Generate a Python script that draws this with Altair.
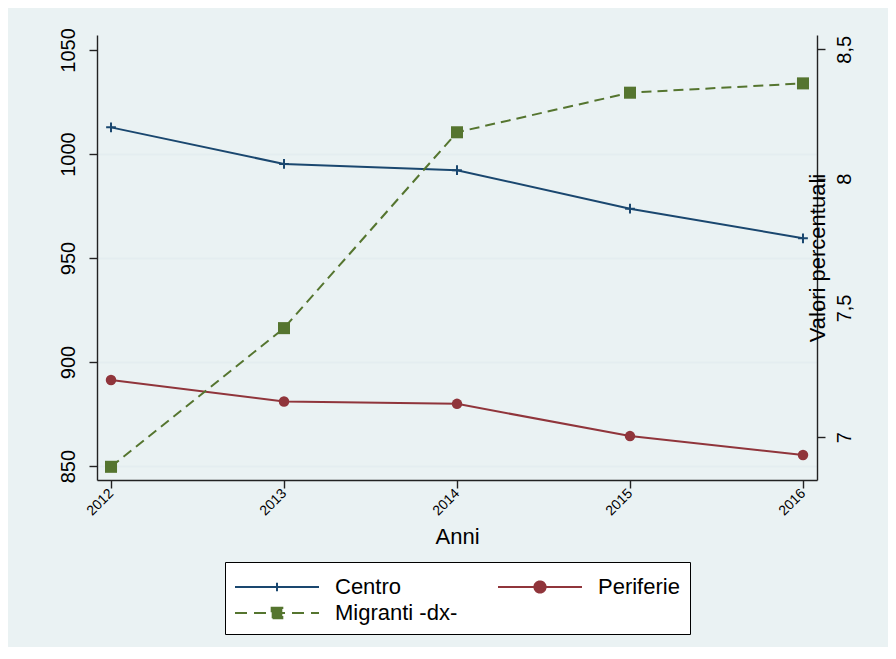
import altair as alt
import pandas as pd

years = [2012, 2013, 2014, 2015, 2016]
centro = [1012.8, 995.2, 992.2, 973.7, 959.5]
periferie = [891.4, 881.0, 879.9, 864.4, 855.3]
migranti = [6.886, 7.422, 8.179, 8.332, 8.368]
# legend order (column-major fill gives rows: Centro | Periferie, Migranti)
series = ["Centro", "Migranti -dx-", "Periferie"]
colors = ["#1A476F", "#55752F", "#90353B"]
left_ticks = [850, 900, 950, 1000, 1050]
right_ticks = [7, 7.5, 8, 8.5]

FONT = "Liberation Sans, Arial, Helvetica, sans-serif"
BG = "#EAF2F3"
AXC = "#222222"
NAVY, GREEN, MAROON = colors

df_c = pd.DataFrame({"anno": years, "valore": centro})
df_p = pd.DataFrame({"anno": years, "valore": periferie})
df_m = pd.DataFrame({"anno": years, "valore": migranti})
df_leg = pd.DataFrame({"serie": series})

x_enc = alt.X(
    "anno:Q",
    scale=alt.Scale(domain=[2011.919, 2016.081], nice=False, zero=False),
    axis=alt.Axis(
        values=years, format="d", title="Anni", labelAngle=315, labelAlign="right",
        labelBaseline="middle", labelFontSize=14, labelPadding=3, tickSize=8,
        titleFontSize=22, titleY=63, titleBaseline="alphabetic", grid=False,
    ),
)

y_left = alt.Y(
    "valore:Q",
    scale=alt.Scale(domain=[843.3, 1057.2], nice=False, zero=False),
    axis=alt.Axis(
        values=left_ticks, format="d", title=None, labelAngle=270, labelAlign="center",
        labelBaseline="bottom", labelFontSize=20, labelPadding=11, tickSize=8,
        grid=True, gridColor="#E4EDF0", gridWidth=2,
        gridOpacity=alt.condition("datum.value >= 1040", alt.value(0), alt.value(1)),
    ),
)

y_right = alt.Y(
    "valore:Q",
    scale=alt.Scale(domain=[6.835, 8.555], nice=False, zero=False),
    axis=alt.Axis(
        orient="right", values=right_ticks,
        labelExpr="replace(format(datum.value, '.1~f'), '.', ',')",
        title="Valori percentuali", titleAngle=270, titleX=0, titleY=222.5,
        titleAlign="center", titleBaseline="middle", titleFontSize=22,
        labelAngle=270, labelAlign="center", labelBaseline="top",
        labelFontSize=20, labelPadding=9, tickSize=8, grid=False,
    ),
)

c_line = alt.Chart(df_c).mark_line(color=NAVY, strokeWidth=2).encode(x=x_enc, y=y_left)
c_pts = alt.Chart(df_c).mark_point(
    shape="M-1,0H1M0,-1V1", size=95, filled=False, strokeWidth=2, color=NAVY, opacity=1
).encode(x=x_enc, y=y_left)
p_line = alt.Chart(df_p).mark_line(color=MAROON, strokeWidth=2).encode(x=x_enc, y=y_left)
p_pts = alt.Chart(df_p).mark_point(
    shape="circle", size=110, filled=True, color=MAROON, opacity=1
).encode(x=x_enc, y=y_left)

m_line = alt.Chart(df_m).mark_line(color=GREEN, strokeWidth=2, strokeDash=[10, 6]).encode(x=x_enc, y=y_right)
m_pts = alt.Chart(df_m).mark_point(
    shape="square", size=145, filled=True, color=GREEN, opacity=1
).encode(x=x_enc, y=y_right)

legend_paths = [
    "M-3,0H3M0,-0.3V0.3",
    "M-3,0H3M-0.38,-0.38H0.38V0.38H-0.38Z",
    "M-3,0H3M0.4,0A0.4,0.4,0,1,1,-0.4,0A0.4,0.4,0,1,1,0.4,0Z",
]

leg = alt.Legend(
    title=None, orient="none", legendX=128, legendY=527, columns=2, columnPadding=36,
    rowPadding=0, padding=10, symbolSize=784, symbolStrokeWidth=2, symbolOffset=27,
    labelOffset=43, labelFontSize=22, labelColor="black", labelFont=FONT,
    strokeColor="black", fillColor="white", cornerRadius=0,
)

legend_layer = alt.Chart(df_leg).transform_filter("false").mark_point(
    filled=True, strokeWidth=2, opacity=1
).encode(
    fill=alt.Fill("serie:N", scale=alt.Scale(domain=series, range=colors), legend=leg),
    stroke=alt.Stroke("serie:N", scale=alt.Scale(domain=series, range=colors), legend=leg),
    shape=alt.Shape("serie:N", scale=alt.Scale(domain=series, range=legend_paths), legend=leg),
    strokeDash=alt.StrokeDash("serie:N", scale=alt.Scale(domain=series, range=[[1, 0], [12, 7], [1, 0]]), legend=leg),
)

left = alt.layer(c_line, c_pts, p_line, p_pts)
right = alt.layer(m_line, m_pts)

chart = alt.layer(left, right, legend_layer).resolve_scale(y="independent").properties(
    width=720, height=445,
    autosize=alt.AutoSizeParams(type="none"),
    padding={"left": 89, "top": 27, "right": 71, "bottom": 167},
    background=BG,
).configure_view(
    fill="white", strokeWidth=0
).configure_axis(
    labelFont=FONT, titleFont=FONT, labelColor="black", titleColor="black",
    domainColor=AXC, domainWidth=1.4, tickColor=AXC, tickWidth=1.4,
    titleFontWeight="normal",
)

chart.save("out.html", embed_options={"renderer": "svg", "actions": False})
